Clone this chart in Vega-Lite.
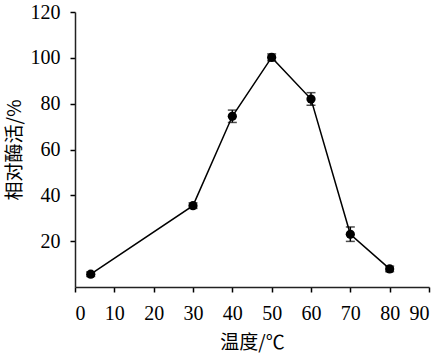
{
  "$schema": "https://vega.github.io/schema/vega-lite/v6.json",
  "width": 354,
  "height": 275,
  "autosize": "none",
  "padding": {"left": 75, "top": 12, "right": 11, "bottom": 67},
  "background": "white",
  "config": {
    "view": {"stroke": null},
    "font": "Liberation Serif",
    "axis": {
      "grid": false,
      "domainColor": "#222222",
      "domainWidth": 1.5,
      "tickColor": "black",
      "tickWidth": 1.5,
      "ticks": true,
      "labelColor": "black",
      "labelOverlap": false,
      "titleFont": "Noto Sans CJK SC",
      "titleFontSize": 19,
      "titleFontWeight": "normal",
      "titleColor": "black"
    }
  },
  "data": {
    "values": [
      {"t": 4, "a": 5.6, "lo": 4.6, "hi": 6.6},
      {"t": 30, "a": 35.5, "lo": 34.3, "hi": 36.7},
      {"t": 40, "a": 74.5, "lo": 71.8, "hi": 77.2},
      {"t": 50, "a": 100.2, "lo": 98.7, "hi": 101.7},
      {"t": 60, "a": 82, "lo": 79.3, "hi": 84.8},
      {"t": 70, "a": 23, "lo": 19.9, "hi": 26.2},
      {"t": 80, "a": 7.9, "lo": 6.7, "hi": 9.1}
    ]
  },
  "encoding": {
    "x": {"field": "t", "type": "quantitative", "scale": {"domain": [0, 90], "nice": false},
      "axis": {"values": [0,10,20,30,40,50,60,70,80,90], "tickSize": 5, "labelPadding": 11, "labelFont": "Liberation Serif", "labelFontSize": 20, "title": "温度/℃", "titlePadding": 10, "labelOverlap": false}}
  },
  "layer": [
    {
      "mark": {"type": "line", "color": "black", "strokeWidth": 1.5},
      "encoding": {
        "y": {"field": "a", "type": "quantitative", "scale": {"domain": [0, 120], "nice": false},
          "axis": {"values": [20,40,60,80,100,120], "tickSize": 5, "labelPadding": 10, "labelFont": "Liberation Serif", "labelFontSize": 20, "title": "相对酶活/%", "titlePadding": 6}}
      }
    },
    {
      "mark": {"type": "rule", "color": "black", "strokeWidth": 1.5},
      "encoding": {
        "y": {"field": "lo", "type": "quantitative"},
        "y2": {"field": "hi"}
      }
    },
    {
      "mark": {"type": "tick", "color": "black", "orient": "horizontal", "size": 9, "thickness": 1.5},
      "encoding": {
        "y": {"field": "lo", "type": "quantitative"}
      }
    },
    {
      "mark": {"type": "tick", "color": "black", "orient": "horizontal", "size": 9, "thickness": 1.5},
      "encoding": {
        "y": {"field": "hi", "type": "quantitative"}
      }
    },
    {
      "mark": {"type": "point", "filled": true, "color": "black", "opacity": 1, "size": 85, "shape": "circle"},
      "encoding": {
        "y": {"field": "a", "type": "quantitative"}
      }
    }
  ]
}
